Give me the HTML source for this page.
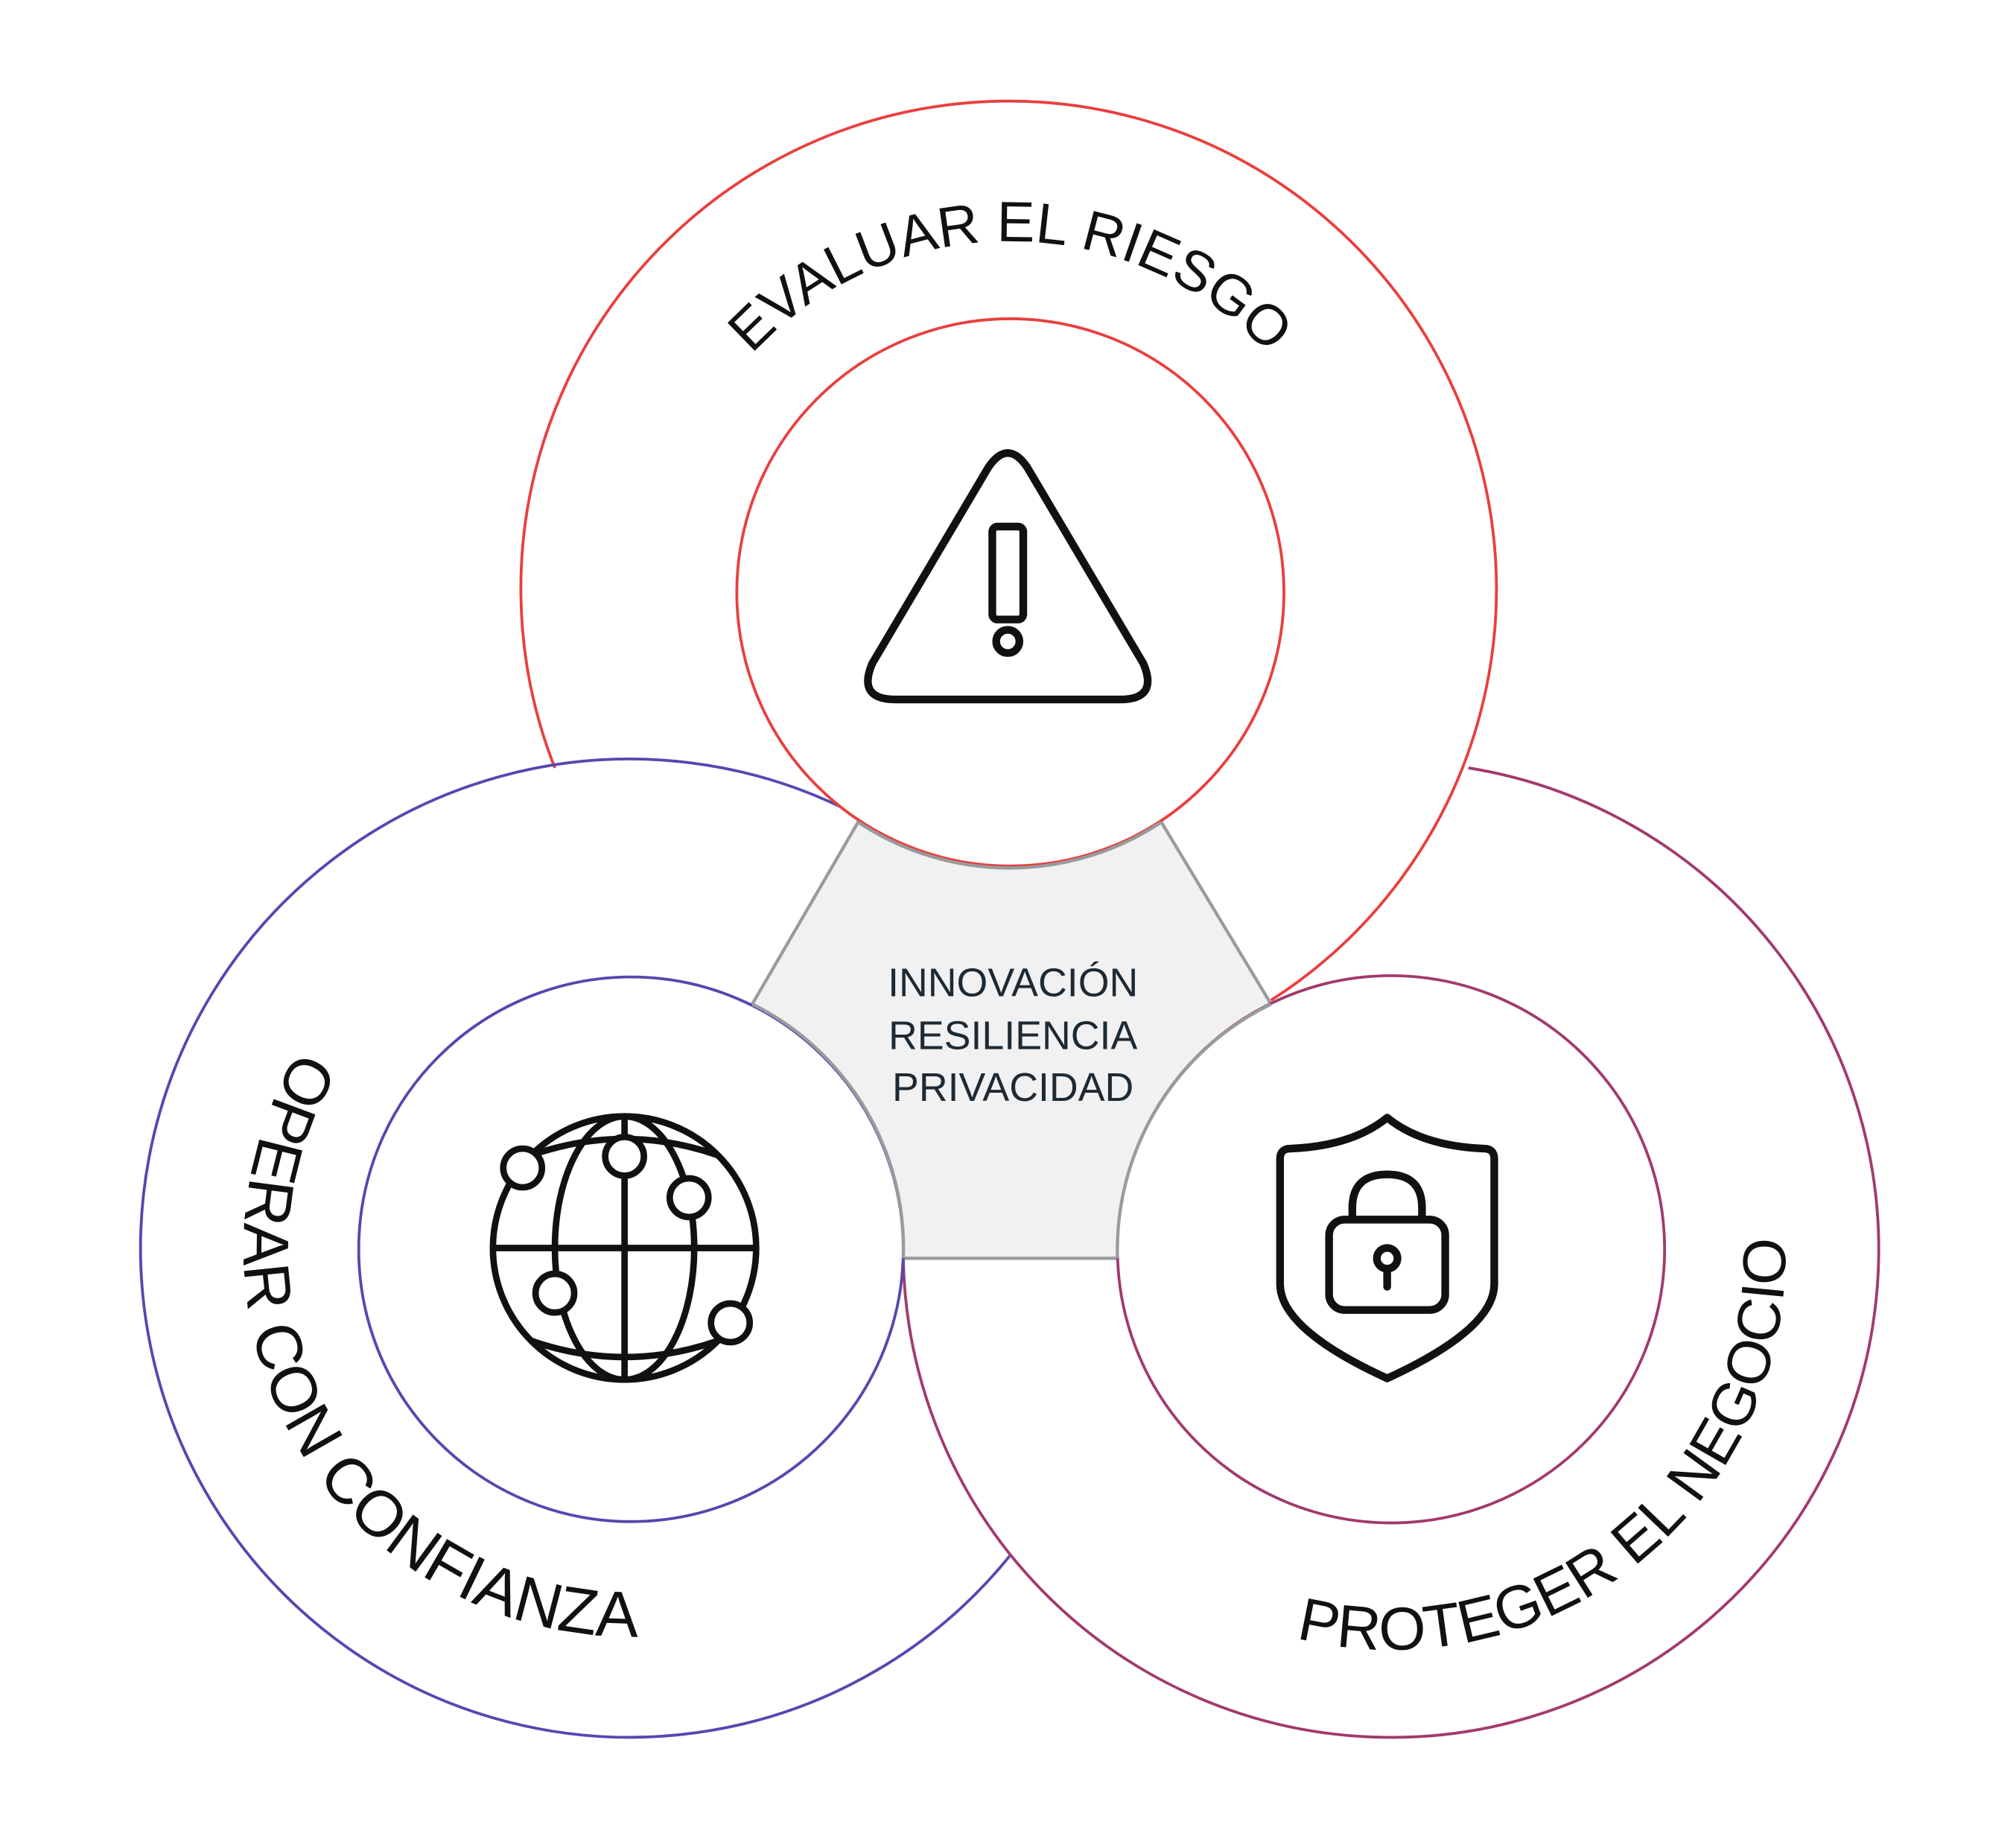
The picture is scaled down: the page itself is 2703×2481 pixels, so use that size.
<!DOCTYPE html>
<html><head><meta charset="utf-8"><style>
html,body{margin:0;padding:0;background:#fff;}
svg{display:block;}
text{font-family:"Liberation Sans",sans-serif;}
</style></head><body>
<svg width="2703" height="2481" viewBox="0 0 1560 1431.9" preserveAspectRatio="none" xmlns="http://www.w3.org/2000/svg">
<defs>
<path id="pTop" d="M510,460 A273,273 0 0 1 1056,460"/>
<path id="pLeft" d="M436.9,672.6 A300,300 0 1 0 718.8,1160.8"/>
<path id="pRight" d="M1000,1268 A305,305 0 0 0 1383,955"/>
</defs>
<polygon points="665,637 900,637 985,778 866,975 700,975 583,778" fill="#f1f1f2" stroke="#999b9d" stroke-width="2.5"/>
<path d="M430,595 A378,378 0 1 1 985,775" fill="none" stroke="#e8403e" stroke-width="2.2"/>
<path d="M665,632 A379,379 0 1 0 783,1205" fill="none" stroke="#5548b0" stroke-width="2.2"/>
<path d="M1138,595 A378,378 0 1 1 700,975" fill="none" stroke="#a23a6e" stroke-width="2.2"/>
<circle cx="783" cy="459" r="212" fill="#fff" stroke="#e8403e" stroke-width="2.2"/>
<circle cx="489" cy="968" r="211" fill="#fff" stroke="#5548b0" stroke-width="2.2"/>
<circle cx="1078" cy="968" r="212" fill="#fff" stroke="#a23a6e" stroke-width="2.2"/>
<path d="M665,637 A212,212 0 0 0 900,637" fill="none" stroke="#999b9d" stroke-width="2.5"/>
<path d="M583,778 A211,211 0 0 1 700,975" fill="none" stroke="#999b9d" stroke-width="2.5"/>
<path d="M985,778 A212,212 0 0 0 866,975" fill="none" stroke="#999b9d" stroke-width="2.5"/>
<g fill="#1d2a33" font-size="31" text-anchor="middle">
<text x="785" y="772">INNOVACIÓN</text>
<text x="785" y="813">RESILIENCIA</text>
<text x="785" y="853">PRIVACIDAD</text>
</g>
<text font-size="44" fill="#111"><textPath href="#pTop" startOffset="50%" text-anchor="middle">EVALUAR EL RIESGO</textPath></text>
<text font-size="50" fill="#111"><textPath href="#pLeft" startOffset="50%" text-anchor="middle">OPERAR CON CONFIANZA</textPath></text>
<text font-size="47" fill="#111"><textPath href="#pRight" startOffset="50%" text-anchor="middle">PROTEGER EL NEGOCIO</textPath></text>
<g fill="none" stroke="#111" stroke-width="6" stroke-linejoin="round" stroke-linecap="round">
<path d="M766,362 Q781,340 796,362 L886,514 Q898,542 868,542 L694,542 Q664,542 676,514 Z"/>
<rect x="769" y="408" width="24" height="72" rx="4"/>
<circle cx="781" cy="497" r="9"/>
</g>
<g fill="none" stroke="#111" stroke-width="5">
<circle cx="484" cy="967" r="102"/>
<ellipse cx="484" cy="967" rx="54" ry="102"/>
<line x1="382" y1="967" x2="586" y2="967"/>
<line x1="484" y1="865" x2="484" y2="1069"/>
<path d="M412,895 Q484,870 556,895"/>
<path d="M412,1039 Q484,1064 556,1039"/>
<g fill="#fff">
<circle cx="405" cy="905" r="15"/>
<circle cx="484" cy="896" r="15"/>
<circle cx="534" cy="928" r="15"/>
<circle cx="430" cy="1002" r="15"/>
<circle cx="566" cy="1025" r="15"/>
</g>
</g>
<g fill="none" stroke="#111" stroke-width="6" stroke-linejoin="round" stroke-linecap="round">
<path d="M1075,866 Q1048,888 1000,890 Q992,890 992,898 L992,995 Q992,1030 1075,1068 Q1158,1030 1158,995 L1158,898 Q1158,890 1150,890 Q1102,888 1075,866 Z"/>
<path d="M1048,945 L1048,936 Q1048,910 1075,910 Q1102,910 1102,936 L1102,945"/>
<rect x="1030" y="945" width="90" height="70" rx="12"/>
<circle cx="1075" cy="975" r="8"/>
<line x1="1075" y1="983" x2="1075" y2="997"/>
</g>
</svg>
</body></html>
